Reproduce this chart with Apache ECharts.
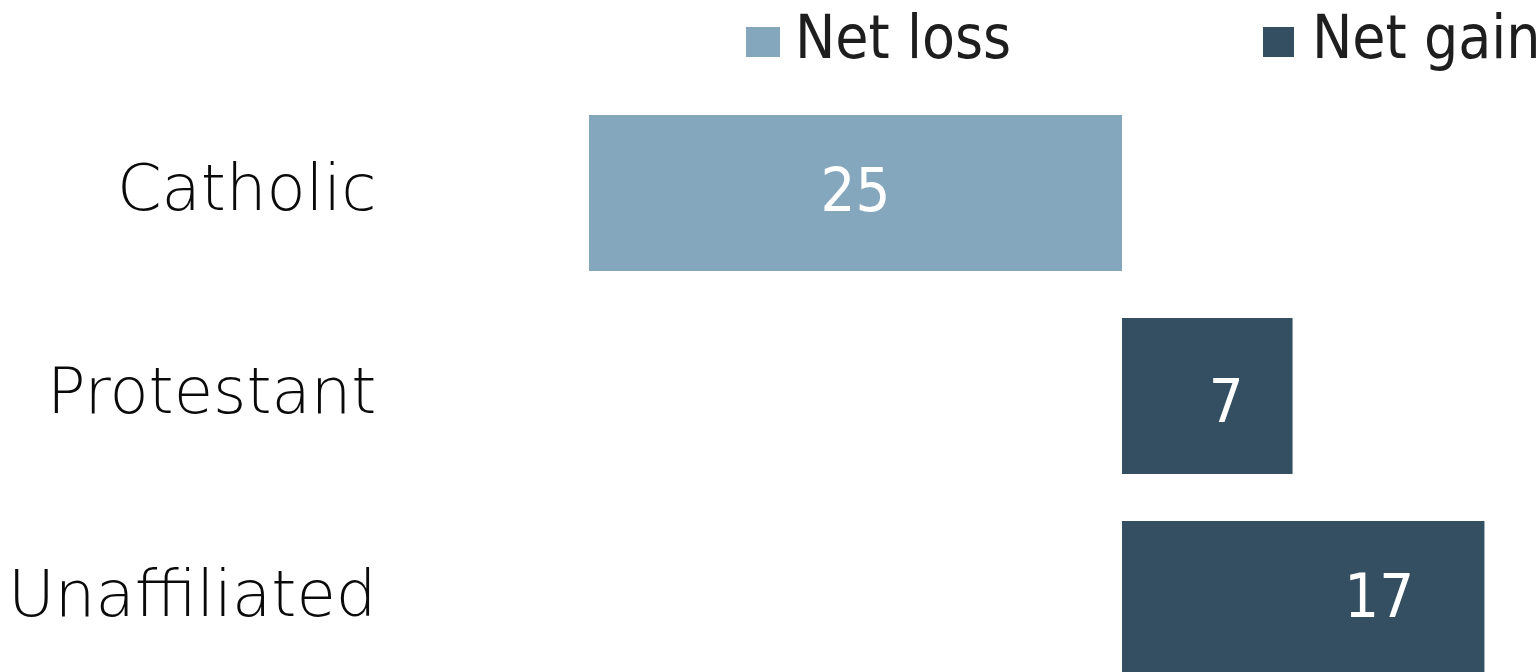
<!DOCTYPE html>
<html>
<head>
<meta charset="utf-8">
<script src="https://cdn.jsdelivr.net/npm/echarts@6/dist/echarts.min.js"></script>
<style>
html,body{margin:0;padding:0;background:#fff;overflow:hidden;}
#c{width:1537px;height:720px;}
</style>
</head>
<body>
<div id="c"></div>
<script>
const categories = ['Catholic', 'Protestant', 'Unaffiliated'];
const netLoss = [-25, null, null];
const netGain = [null, 8, 17];
const lossLabels = ['25', '', ''];
const gainLabels = ['', '7', '17'];
const seriesNames = ['Net loss', 'Net gain'];

const chart = echarts.init(document.getElementById('c'), null, {renderer: 'canvas'});
const labelFont = {fontFamily: 'DejaVu Sans Condensed', fontWeight: 200, fontSize: 61, color: '#ffffff'};
const legendText = {fontFamily: 'DejaVu Sans Condensed', fontWeight: 200, fontSize: 60, color: '#1e1e1e'};
chart.setOption({
  animation: false,
  legend: [
    {data: [seriesNames[0]], left: 741, top: 7, icon: 'rect', itemWidth: 34, itemHeight: 30, itemGap: 0,
     textStyle: Object.assign({padding: [0, 0, 0, 10]}, legendText)},
    {data: [seriesNames[1]], left: 1258, top: 7, icon: 'rect', itemWidth: 31, itemHeight: 30, itemGap: 0,
     textStyle: Object.assign({padding: [0, 0, 0, 13]}, legendText)}
  ],
  grid: {left: 482.4, width: 1023.36, top: 91.5, height: 609, containLabel: false},
  xAxis: {type: 'value', min: -30, max: 18, show: false, splitLine: {show: false}},
  yAxis: {
    type: 'category', data: categories, inverse: true,
    axisLine: {show: false}, axisTick: {show: false},
    axisLabel: {fontFamily: 'DejaVu Sans', fontWeight: 200, fontSize: 64, color: '#0a0a0a', margin: 106}
  },
  series: [
    {name: seriesNames[0], type: 'bar', stack: 't', barWidth: 156, itemStyle: {color: '#85A7BD'},
     data: netLoss.map((v, i) => ({value: v, label: {show: v !== null, position: 'inside',
       offset: [0, 2], formatter: () => lossLabels[i]}})),
     label: labelFont},
    {name: seriesNames[1], type: 'bar', stack: 't', barWidth: 156, itemStyle: {color: '#334F61'},
     data: netGain.map((v, i) => ({value: v, label: {show: v !== null, position: 'inside',
       offset: i === 1 ? [19, 10] : [76, 2], formatter: () => gainLabels[i]}})),
     label: labelFont}
  ]
});
</script>
</body>
</html>
